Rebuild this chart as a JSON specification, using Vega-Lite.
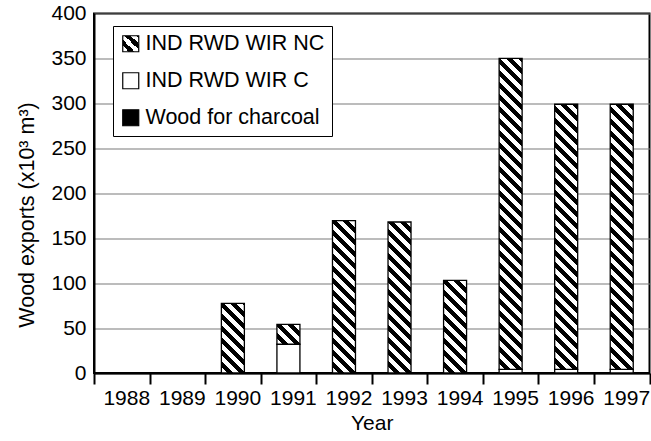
{
  "$schema": "https://vega.github.io/schema/vega-lite/v6.json",
  "width": 555.5,
  "height": 359.5,
  "autosize": {"type": "none"},
  "padding": {"left": 94, "top": 13.5, "right": 1.5, "bottom": 68},
  "params": [
    {"name": "stripes", "value": [
      {"offset":0,"color":"#fff"},{"offset":0.0125,"color":"#fff"},{"offset":0.0125,"color":"#000"},{"offset":0.025,"color":"#000"},
      {"offset":0.025,"color":"#fff"},{"offset":0.0375,"color":"#fff"},{"offset":0.0375,"color":"#000"},{"offset":0.05,"color":"#000"},
      {"offset":0.05,"color":"#fff"},{"offset":0.0625,"color":"#fff"},{"offset":0.0625,"color":"#000"},{"offset":0.075,"color":"#000"},
      {"offset":0.075,"color":"#fff"},{"offset":0.0875,"color":"#fff"},{"offset":0.0875,"color":"#000"},{"offset":0.1,"color":"#000"},
      {"offset":0.1,"color":"#fff"},{"offset":0.1125,"color":"#fff"},{"offset":0.1125,"color":"#000"},{"offset":0.125,"color":"#000"},
      {"offset":0.125,"color":"#fff"},{"offset":0.1375,"color":"#fff"},{"offset":0.1375,"color":"#000"},{"offset":0.15,"color":"#000"},
      {"offset":0.15,"color":"#fff"},{"offset":0.1625,"color":"#fff"},{"offset":0.1625,"color":"#000"},{"offset":0.175,"color":"#000"},
      {"offset":0.175,"color":"#fff"},{"offset":0.1875,"color":"#fff"},{"offset":0.1875,"color":"#000"},{"offset":0.2,"color":"#000"},
      {"offset":0.2,"color":"#fff"},{"offset":0.2125,"color":"#fff"},{"offset":0.2125,"color":"#000"},{"offset":0.225,"color":"#000"},
      {"offset":0.225,"color":"#fff"},{"offset":0.2375,"color":"#fff"},{"offset":0.2375,"color":"#000"},{"offset":0.25,"color":"#000"},
      {"offset":0.25,"color":"#fff"},{"offset":0.2625,"color":"#fff"},{"offset":0.2625,"color":"#000"},{"offset":0.275,"color":"#000"},
      {"offset":0.275,"color":"#fff"},{"offset":0.2875,"color":"#fff"},{"offset":0.2875,"color":"#000"},{"offset":0.3,"color":"#000"},
      {"offset":0.3,"color":"#fff"},{"offset":0.3125,"color":"#fff"},{"offset":0.3125,"color":"#000"},{"offset":0.325,"color":"#000"},
      {"offset":0.325,"color":"#fff"},{"offset":0.3375,"color":"#fff"},{"offset":0.3375,"color":"#000"},{"offset":0.35,"color":"#000"},
      {"offset":0.35,"color":"#fff"},{"offset":0.3625,"color":"#fff"},{"offset":0.3625,"color":"#000"},{"offset":0.375,"color":"#000"},
      {"offset":0.375,"color":"#fff"},{"offset":0.3875,"color":"#fff"},{"offset":0.3875,"color":"#000"},{"offset":0.4,"color":"#000"},
      {"offset":0.4,"color":"#fff"},{"offset":0.4125,"color":"#fff"},{"offset":0.4125,"color":"#000"},{"offset":0.425,"color":"#000"},
      {"offset":0.425,"color":"#fff"},{"offset":0.4375,"color":"#fff"},{"offset":0.4375,"color":"#000"},{"offset":0.45,"color":"#000"},
      {"offset":0.45,"color":"#fff"},{"offset":0.4625,"color":"#fff"},{"offset":0.4625,"color":"#000"},{"offset":0.475,"color":"#000"},
      {"offset":0.475,"color":"#fff"},{"offset":0.4875,"color":"#fff"},{"offset":0.4875,"color":"#000"},{"offset":0.5,"color":"#000"},
      {"offset":0.5,"color":"#fff"},{"offset":0.5125,"color":"#fff"},{"offset":0.5125,"color":"#000"},{"offset":0.525,"color":"#000"},
      {"offset":0.525,"color":"#fff"},{"offset":0.5375,"color":"#fff"},{"offset":0.5375,"color":"#000"},{"offset":0.55,"color":"#000"},
      {"offset":0.55,"color":"#fff"},{"offset":0.5625,"color":"#fff"},{"offset":0.5625,"color":"#000"},{"offset":0.575,"color":"#000"},
      {"offset":0.575,"color":"#fff"},{"offset":0.5875,"color":"#fff"},{"offset":0.5875,"color":"#000"},{"offset":0.6,"color":"#000"},
      {"offset":0.6,"color":"#fff"},{"offset":0.6125,"color":"#fff"},{"offset":0.6125,"color":"#000"},{"offset":0.625,"color":"#000"},
      {"offset":0.625,"color":"#fff"},{"offset":0.6375,"color":"#fff"},{"offset":0.6375,"color":"#000"},{"offset":0.65,"color":"#000"},
      {"offset":0.65,"color":"#fff"},{"offset":0.6625,"color":"#fff"},{"offset":0.6625,"color":"#000"},{"offset":0.675,"color":"#000"},
      {"offset":0.675,"color":"#fff"},{"offset":0.6875,"color":"#fff"},{"offset":0.6875,"color":"#000"},{"offset":0.7,"color":"#000"},
      {"offset":0.7,"color":"#fff"},{"offset":0.7125,"color":"#fff"},{"offset":0.7125,"color":"#000"},{"offset":0.725,"color":"#000"},
      {"offset":0.725,"color":"#fff"},{"offset":0.7375,"color":"#fff"},{"offset":0.7375,"color":"#000"},{"offset":0.75,"color":"#000"},
      {"offset":0.75,"color":"#fff"},{"offset":0.7625,"color":"#fff"},{"offset":0.7625,"color":"#000"},{"offset":0.775,"color":"#000"},
      {"offset":0.775,"color":"#fff"},{"offset":0.7875,"color":"#fff"},{"offset":0.7875,"color":"#000"},{"offset":0.8,"color":"#000"},
      {"offset":0.8,"color":"#fff"},{"offset":0.8125,"color":"#fff"},{"offset":0.8125,"color":"#000"},{"offset":0.825,"color":"#000"},
      {"offset":0.825,"color":"#fff"},{"offset":0.8375,"color":"#fff"},{"offset":0.8375,"color":"#000"},{"offset":0.85,"color":"#000"},
      {"offset":0.85,"color":"#fff"},{"offset":0.8625,"color":"#fff"},{"offset":0.8625,"color":"#000"},{"offset":0.875,"color":"#000"},
      {"offset":0.875,"color":"#fff"},{"offset":0.8875,"color":"#fff"},{"offset":0.8875,"color":"#000"},{"offset":0.9,"color":"#000"},
      {"offset":0.9,"color":"#fff"},{"offset":0.9125,"color":"#fff"},{"offset":0.9125,"color":"#000"},{"offset":0.925,"color":"#000"},
      {"offset":0.925,"color":"#fff"},{"offset":0.9375,"color":"#fff"},{"offset":0.9375,"color":"#000"},{"offset":0.95,"color":"#000"},
      {"offset":0.95,"color":"#fff"},{"offset":0.9625,"color":"#fff"},{"offset":0.9625,"color":"#000"},{"offset":0.975,"color":"#000"},
      {"offset":0.975,"color":"#fff"},{"offset":0.9875,"color":"#fff"},{"offset":0.9875,"color":"#000"},{"offset":1,"color":"#000"}
    ]}
  ],
  "data": {
    "values": [
      {"year": 1990, "series": "IND RWD WIR NC", "value": 77.5},
      {"year": 1991, "series": "IND RWD WIR C", "value": 32},
      {"year": 1991, "series": "IND RWD WIR NC", "value": 22},
      {"year": 1992, "series": "IND RWD WIR NC", "value": 169.5},
      {"year": 1993, "series": "IND RWD WIR NC", "value": 168},
      {"year": 1994, "series": "IND RWD WIR NC", "value": 103},
      {"year": 1995, "series": "IND RWD WIR C", "value": 4},
      {"year": 1995, "series": "IND RWD WIR NC", "value": 346},
      {"year": 1996, "series": "IND RWD WIR C", "value": 4},
      {"year": 1996, "series": "IND RWD WIR NC", "value": 295},
      {"year": 1997, "series": "IND RWD WIR C", "value": 4},
      {"year": 1997, "series": "IND RWD WIR NC", "value": 295}
    ]
  },
  "mark": {"type": "bar", "stroke": "black", "strokeWidth": 1.3, "size": 23},
  "encoding": {
    "x": {
      "field": "year", "type": "ordinal", "title": "Year",
      "scale": {"domain": [1988, 1989, 1990, 1991, 1992, 1993, 1994, 1995, 1996, 1997], "paddingInner": 0, "paddingOuter": 0},
      "axis": {"labelAngle": 0, "tickBand": "extent", "tickSize": 11, "tickColor": "black", "tickWidth": 2,
               "domainColor": "black", "domainWidth": 2, "labelPadding": 3, "labelOffset": 4.5, "grid": false,
               "labelFontSize": 21, "labelColor": "black", "titleFontSize": 21, "titleColor": "black",
               "titleFontWeight": "normal", "titlePadding": 4}
    },
    "y": {
      "field": "value", "type": "quantitative", "stack": "zero", "title": "Wood exports (x10³ m³)",
      "scale": {"domain": [0, 400], "nice": false},
      "axis": {"values": [0, 50, 100, 150, 200, 250, 300, 350, 400], "grid": true, "gridColor": "#7a7a7a", "gridWidth": 1.2,
               "domainColor": "black", "domainWidth": 2, "tickSize": 0, "labelPadding": 8,
               "labelFontSize": 21, "labelColor": "black", "titleFontSize": 21.5, "titleColor": "black",
               "titleFontWeight": "normal", "titlePadding": 12, "titleY": 201}
    },
    "fill": {
      "field": "series", "type": "nominal",
      "scale": {
        "domain": ["IND RWD WIR NC", "IND RWD WIR C", "Wood for charcoal"],
        "range": [{"expr": "{gradient: 'linear', x1: 0, y1: 1, x2: 15, y2: -14, stops: stripes}"}, "white", "black"]
      },
      "legend": {
        "orient": "none", "legendX": 19, "legendY": 12.5, "title": null,
        "symbolType": "square", "symbolSize": 256, "symbolStrokeColor": "black", "symbolStrokeWidth": 1.2,
        "labelFontSize": 21.5, "labelColor": "black", "labelOffset": 4, "labelLimit": 0, "rowPadding": 14, "padding": 7,
        "strokeColor": "black", "fillColor": "white", "symbolOpacity": 1
      },
      "condition": {
        "test": "datum.series === 'IND RWD WIR NC'",
        "value": {"expr": "{gradient: 'linear', x1: 0, y1: 1, x2: 480*23/(529+pow(datum.value*0.89875,2)), y2: 1-480*datum.value*0.89875/(529+pow(datum.value*0.89875,2)), stops: stripes}"}
      }
    },
    "order": {"field": "series", "sort": "ascending"}
  },
  "config": {
    "font": "Liberation Sans",
    "view": {"stroke": "black", "strokeWidth": 2, "fill": "white"},
    "background": "white"
  }
}
